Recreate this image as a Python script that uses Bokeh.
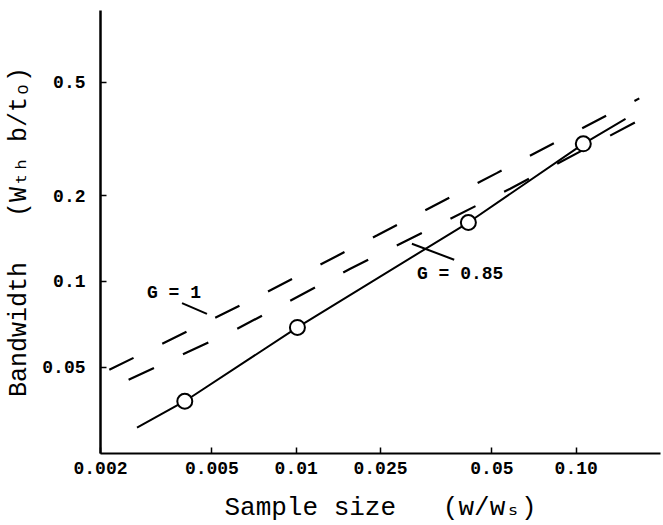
from bokeh.plotting import figure
from bokeh.models import FixedTicker, Range1d
from bokeh.core.properties import value
from bokeh.embed import file_html
from bokeh.resources import INLINE

# ---- data ----
measured_x = [0.004, 0.0101, 0.0412, 0.106]
measured_y = [0.038, 0.069, 0.161, 0.304]

fit_x = [0.0027, 0.004, 0.0101, 0.0412, 0.106, 0.150]
fit_y = [0.0307, 0.038, 0.069, 0.161, 0.304, 0.372]

g1_x = [0.00215, 0.0069, 0.0194, 0.052, 0.168]
g1_y = [0.049, 0.086, 0.145, 0.240, 0.439]

g085_x = [0.00252, 0.0060, 0.0156, 0.0581, 0.174]
g085_y = [0.0452, 0.0673, 0.1108, 0.2115, 0.375]

x_ticks = [0.002, 0.005, 0.01, 0.02, 0.05, 0.1]
x_tick_labels = ["0.002", "0.005", "0.01", "0.025", "0.05", "0.10"]
y_ticks = [0.05, 0.1, 0.2, 0.5]
y_tick_labels = ["0.05", "0.1", "0.2", "0.5"]

label_text = ["G = 1", "G = 0.85"]
label_x = [0.00293, 0.0270]
label_y = [0.0913, 0.1064]
leader_x0 = [0.00391, 0.02589]
leader_y0 = [0.0839, 0.1356]
leader_x1 = [0.0048, 0.03666]
leader_y1 = [0.0770, 0.1192]

x_title = "Sample size\u00a0\u00a0\u00a0(w/w\u209b)"
y_title = "Bandwidth\u00a0\u00a0\u00a0(W\u209c\u2095 b/t\u2092)"

FONT = "'Liberation Mono', 'DejaVu Sans Mono', monospace"

p = figure(width=662, height=525,
           x_axis_type="log", y_axis_type="log",
           x_range=Range1d(0.002, 0.2), y_range=Range1d(0.02491, 0.8929),
           output_backend="svg", toolbar_location=None,
           min_border_left=100, min_border_right=2,
           min_border_top=10, min_border_bottom=72)

p.grid.visible = False
p.outline_line_color = None
p.background_fill_color = "white"
p.border_fill_color = "white"

# dashed theory curves
p.line(g1_x, g1_y, line_color="black", line_width=2.2, line_dash="27 32")
p.line(g085_x, g085_y, line_color="black", line_width=2.2, line_dash="28 32")

# measured line and points
p.line(fit_x, fit_y, line_color="black", line_width=2)
p.scatter(measured_x, measured_y, size=15, marker="circle",
          fill_color="white", line_color="black", line_width=2)

# annotations
p.segment(leader_x0, leader_y0, leader_x1, leader_y1, line_color="black", line_width=2)
p.text(label_x, label_y, text=label_text, text_font=value(FONT),
       text_font_style="bold", text_font_size="18px",
       text_baseline="middle", text_align="left", text_color="black")

for ax, ticks, labels in ((p.xaxis, x_ticks, x_tick_labels), (p.yaxis, y_ticks, y_tick_labels)):
    ax.ticker = FixedTicker(ticks=ticks)
    ax.major_label_overrides = {t: l for t, l in zip(ticks, labels)}
    ax.minor_tick_line_color = None
    ax.major_tick_in = 6
    ax.major_tick_out = 0
    ax.major_tick_line_color = "black"
    ax.major_tick_line_width = 1.5
    ax.axis_line_color = "black"
    ax.major_label_text_font = FONT
    ax.major_label_text_font_style = "bold"
    ax.major_label_text_font_size = "18px"
    ax.major_label_text_color = "black"
    ax.axis_label_text_font = FONT
    ax.axis_label_text_font_style = "normal"
    ax.axis_label_text_color = "black"

p.xaxis.axis_label = x_title
p.yaxis.axis_label = y_title
p.xaxis.axis_label_text_font_size = "26px"
p.yaxis.axis_label_text_font_size = "25px"
p.xaxis.axis_line_width = 2
p.yaxis.axis_line_width = 2.5
p.xaxis.major_label_standoff = 8
p.yaxis.major_label_standoff = 15
p.xaxis.axis_label_standoff = 16
p.yaxis.axis_label_standoff = 5

open("out.html", "w").write(file_html(p, INLINE))
